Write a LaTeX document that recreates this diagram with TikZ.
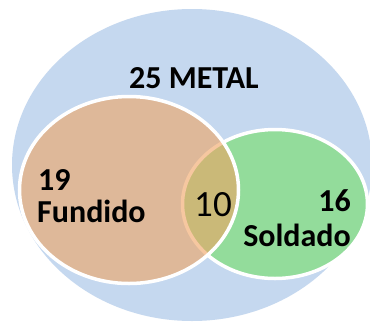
\documentclass[tikz,border=0pt]{standalone}
\usepackage{fontspec}
\setmainfont{Carlito}
\definecolor{metalblue}{RGB}{197,216,239}
\definecolor{fundorange}{RGB}{240,163,97}
\definecolor{soldgreen}{RGB}{147,220,155}
\tikzset{
  setline/.style={draw=white, line width=3.5pt},
  lbl/.style={inner sep=0pt, font=\bfseries\fontsize{32}{34}\selectfont},
  numlbl/.style={inner sep=0pt, font=\fontsize{37}{39}\selectfont}
}
\begin{document}
\begin{tikzpicture}[x=1pt,y=-1pt]
\clip (0,0) rectangle (370,325);
\fill[white] (0,0) rectangle (370,325);
\fill[metalblue] (192,165) ellipse [x radius=180, y radius=156];
\path[setline, fill=soldgreen] (275,204) ellipse [x radius=92.5, y radius=74.5];
\path[setline, fill=fundorange, fill opacity=0.6] (129,190) ellipse [x radius=109.5, y radius=93.5];
\node[lbl, anchor=base west] (metal) at (129,88) {25 METAL};
\node[lbl, anchor=base west] (n19) at (38,190) {19};
\node[lbl, anchor=base west] (fund) at (37,222) {Fundido};
\node[numlbl, anchor=base] (n10) at (213,216) {10};
\node[lbl, anchor=base east] (n16) at (351,211) {16};
\node[lbl, anchor=base east] (sold) at (351,246) {Soldado};
\end{tikzpicture}
\end{document}
